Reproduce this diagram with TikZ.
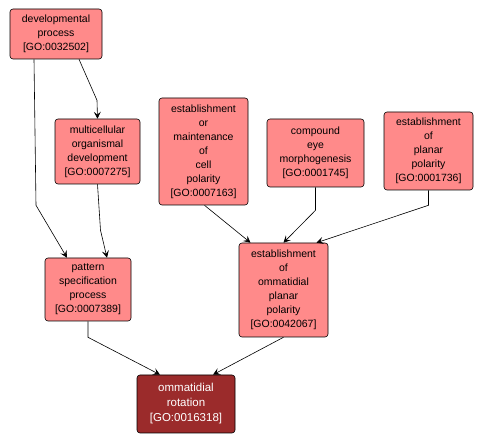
\documentclass[tikz,border=0pt]{standalone}
\usepackage{fontspec}
\setmainfont{Liberation Sans}
\usepackage{xcolor}
\usetikzlibrary{positioning, arrows.meta, calc}
\definecolor{goterm}{HTML}{FF8A8A}
\definecolor{goquery}{HTML}{9B2B2B}
\tikzset{
  term/.style={draw=black, line width=0.6pt, rounded corners=3pt, fill=goterm, align=center, font=\fontsize{10.5}{14}\selectfont, inner sep=1pt},
  query/.style={term, fill=goquery, text=white, font=\fontsize{11.5}{15}\selectfont},
  edge/.style={-{Stealth[length=7pt, width=7pt, inset=3pt]}, line width=0.6pt, draw=black},
}
\begin{document}
\begin{tikzpicture}[x=1pt, y=-1pt]
  \useasboundingbox (0,0) rectangle (485,443);
  \node[term, minimum width=92pt, minimum height=50pt] (devproc) at (56,34) {developmental\\process\\{[GO:0032502]}};
  \node[term, minimum width=85pt, minimum height=65pt] (multidev) at (97.5,151.5) {multicellular\\organismal\\development\\{[GO:0007275]}};
  \node[term, minimum width=89pt, minimum height=107pt] (cellpol) at (203.5,151.5) {establishment\\or\\maintenance\\of\\cell\\polarity\\{[GO:0007163]}};
  \node[term, minimum width=97pt, minimum height=68pt] (compeye) at (315.5,153) {compound\\eye\\morphogenesis\\{[GO:0001745]}};
  \node[term, minimum width=89pt, minimum height=78pt] (planpol) at (428.5,151) {establishment\\of\\planar\\polarity\\{[GO:0001736]}};
  \node[term, minimum width=86pt, minimum height=63pt] (patspec) at (88,289.5) {pattern\\specification\\process\\{[GO:0007389]}};
  \node[term, minimum width=89pt, minimum height=94pt] (ommpol) at (283.5,290) {establishment\\of\\ommatidial\\planar\\polarity\\{[GO:0042067]}};
  \node[query, minimum width=98pt, minimum height=58pt] (ommrot) at (186,404) {ommatidial\\rotation\\{[GO:0016318]}};

  \draw[edge] ([xshift=-22pt]devproc.south) -- ++(2,146) -- ([xshift=-21pt]patspec.north);
  \draw[edge] ([xshift=23pt]devproc.south) -- ++(18,41) -- (multidev.north);
  \draw[edge] (multidev.south) -- ++(3,46) -- ([xshift=19pt]patspec.north);
  \draw[edge] (patspec.south) -- ++(0,16) -- ([xshift=-26pt]ommrot.north);
  \draw[edge] (ommpol.south) -- ([xshift=27pt]ommrot.north);
  \draw[edge] ([xshift=1pt]cellpol.south) -- ([xshift=-33pt]ommpol.north);
  \draw[edge] (compeye.south) -- ++(0,23) -- ([xshift=0pt]ommpol.north);
  \draw[edge] (planpol.south) -- ++(0,15) -- ([xshift=33pt]ommpol.north);
\end{tikzpicture}
\end{document}
